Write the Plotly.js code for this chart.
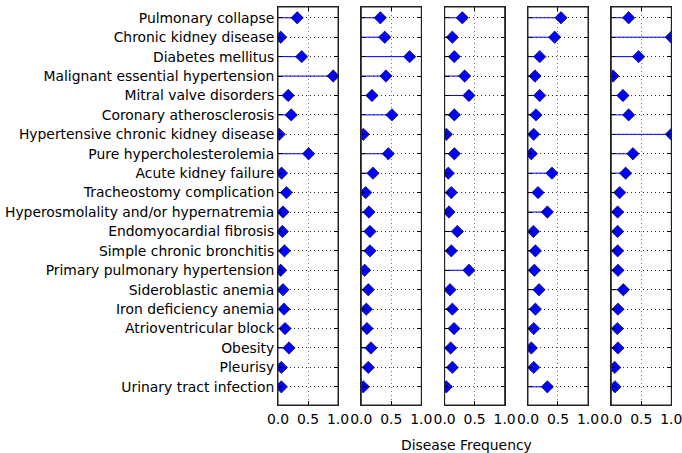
<!DOCTYPE html>
<html>
<head>
<meta charset="utf-8">
<script src="https://cdn.plot.ly/plotly-3.0.1.min.js"></script>
<style>html,body{margin:0;padding:0;background:#fff}#chart{width:682px;height:453px}</style>
</head>
<body>
<div id="chart"></div>
<script>
const categories = [
  "Pulmonary collapse","Chronic kidney disease","Diabetes mellitus","Malignant essential hypertension",
  "Mitral valve disorders","Coronary atherosclerosis","Hypertensive chronic kidney disease",
  "Pure hypercholesterolemia","Acute kidney failure","Tracheostomy complication",
  "Hyperosmolality and/or hypernatremia","Endomyocardial fibrosis","Simple chronic bronchitis",
  "Primary pulmonary hypertension","Sideroblastic anemia","Iron deficiency anemia",
  "Atrioventricular block","Obesity","Pleurisy","Urinary tract infection"
];
const panel1 = [0.32,0.045,0.395,0.92,0.17,0.22,0.02,0.51,0.06,0.14,0.083,0.073,0.107,0.045,0.083,0.10,0.117,0.183,0.056,0.056];
const panel2 = [0.316,0.39,0.805,0.41,0.177,0.51,0.033,0.45,0.194,0.072,0.127,0.144,0.144,0.055,0.116,0.083,0.094,0.16,0.116,0.033];
const panel3 = [0.294,0.128,0.161,0.333,0.405,0.161,0.028,0.161,0.061,0.111,0.072,0.211,0.111,0.405,0.089,0.128,0.156,0.10,0.128,0.028];
const panel4 = [0.55,0.445,0.195,0.117,0.195,0.133,0.095,0.056,0.40,0.167,0.323,0.09,0.123,0.106,0.184,0.123,0.095,0.056,0.095,0.323];
const panel5 = [0.289,1.0,0.455,0.028,0.194,0.289,1.0,0.36,0.238,0.139,0.105,0.105,0.105,0.111,0.20,0.111,0.10,0.111,0.056,0.061];
const xTickVals = [0, 0.5, 1.0];
const xTickText = ["0.0", "0.5", "1.0"];
const xLabel = "Disease Frequency";

const FS = 13.9;
const panels = [panel1, panel2, panel3, panel4, panel5];
const idx = categories.map((_, i) => i);
const traces = [];
const layout = {
  width: 682, height: 453,
  margin: {l: 278, r: 10, t: 7, b: 48},
  paper_bgcolor: "#fff", plot_bgcolor: "#fff",
  showlegend: false,
  font: {family: "DejaVu Sans", size: FS, color: "#000"},
  shapes: [],
  annotations: [{
    text: xLabel, xref: "paper", yref: "paper", x: 0.479, y: -0.1,
    xanchor: "center", yanchor: "middle", showarrow: false,
    font: {family: "DejaVu Sans", size: FS, color: "#000"}
  }]
};
const totalW = 394, step = 83.33, pw = 60;
panels.forEach((vals, p) => {
  const n = p === 0 ? "" : String(p + 1);
  const xs = [], ys = [];
  vals.forEach((v, i) => { xs.push(0, v, null); ys.push(i, i, null); });
  traces.push({
    type: "scatter", mode: "lines", x: xs, y: ys,
    xaxis: "x" + n, yaxis: "y" + n,
    line: {color: "#0000ff", width: 1}, hoverinfo: "skip"
  });
  traces.push({
    type: "scatter", mode: "markers", x: vals, y: idx,
    xaxis: "x" + n, yaxis: "y" + n,
    marker: {symbol: "diamond", size: 9.5, color: "#0000ff", line: {color: "#000", width: 0.6}}
  });
  const d0 = step * p / totalW, d1 = (step * p + pw) / totalW;
  layout["xaxis" + n] = {
    domain: [d0, Math.min(d1, 1)], anchor: "y" + n, range: [0, 1],
    tickvals: xTickVals, ticktext: xTickText, ticks: "inside", ticklen: 4, tickcolor: "#000",
    showline: true, linecolor: "#222", linewidth: 1, mirror: "ticks",
    showgrid: true, gridcolor: "#777", griddash: "1px,3px", gridwidth: 1,
    zeroline: false, tickfont: {size: FS}, ticklabelstandoff: 1,
    ticklabeloverflow: "allow", automargin: false
  };
  layout["yaxis" + n] = {
    domain: [0, 1], anchor: "x" + n, range: [19.935, -0.555],
    tickvals: idx, ticktext: p === 0 ? categories : idx.map(() => ""),
    showticklabels: p === 0,
    ticks: "inside", ticklen: 4, tickcolor: "#000",
    showline: true, linecolor: "#222", linewidth: 1, mirror: "ticks",
    showgrid: true, gridcolor: "#333", griddash: "1px,3px", gridwidth: 1,
    zeroline: false, tickfont: {size: FS}, automargin: false
  };
  layout.shapes.push({
    type: "rect", xref: "x" + n + " domain", yref: "y" + n + " domain",
    x0: 0, x1: 1, y0: 0, y1: 1, line: {color: "#222", width: 1}, layer: "above"
  });
});
Plotly.newPlot("chart", traces, layout, {staticPlot: true, displayModeBar: false});
</script>
</body>
</html>
